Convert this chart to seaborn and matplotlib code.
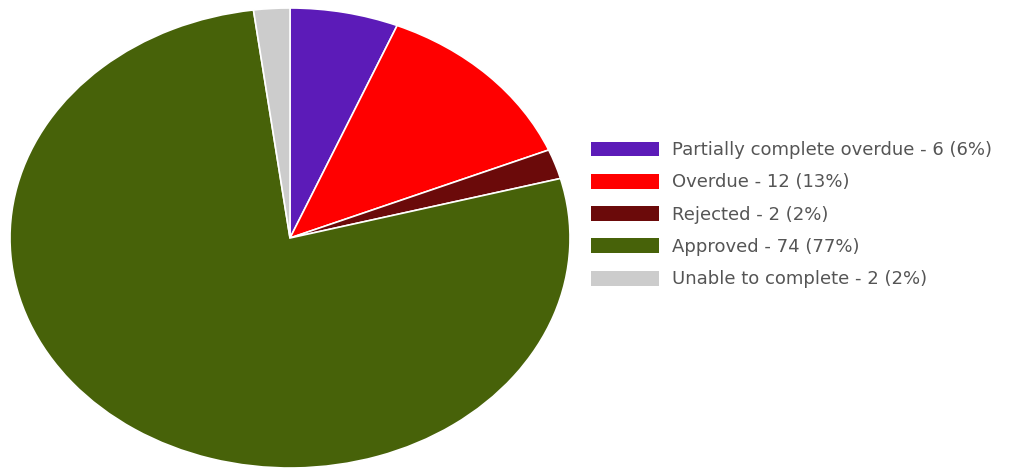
import matplotlib
matplotlib.use("Agg")
import matplotlib.pyplot as plt
from matplotlib.patches import Patch
import seaborn as sns

categories = ["Partially complete overdue", "Overdue", "Rejected", "Approved", "Unable to complete"]
counts = [6, 12, 2, 74, 2]
colors = ["#5c1bb8", "#ff0000", "#6b0a0a", "#476209", "#cccccc"]

sns.set_theme(style="white")
plt.rcParams["font.family"] = ["DejaVu Sans"]

fig = plt.figure(figsize=(10.10, 4.70), dpi=100)
ax = fig.add_axes([10 / 1010, 2 / 470, 560 / 1010, 460 / 470])

total = sum(counts)
ax.pie(counts, colors=colors, startangle=90, counterclock=False,
       radius=1.0, wedgeprops=dict(edgecolor="white", linewidth=1.2))
ax.set_aspect("auto")
ax.set_xlim(-1, 1)
ax.set_ylim(-1, 1)
ax.axis("off")

labels = []
for c, n in zip(categories, counts):
    pct = int(n / total * 100 + 0.5)
    labels.append(f"{c} - {n} ({pct}%)")

handles = [Patch(facecolor=col, edgecolor="none") for col in colors]
leg = fig.legend(handles, labels, loc="upper left",
                 bbox_to_anchor=(583.5 / 1010, 1 - 134 / 470),
                 frameon=False, fontsize=13, handlelength=3.8, handleheight=0.9,
                 handletextpad=0.7, labelspacing=0.79, borderaxespad=0)
for t in leg.get_texts():
    t.set_color("#555555")

fig.savefig("out.png", dpi=100, facecolor="white")
